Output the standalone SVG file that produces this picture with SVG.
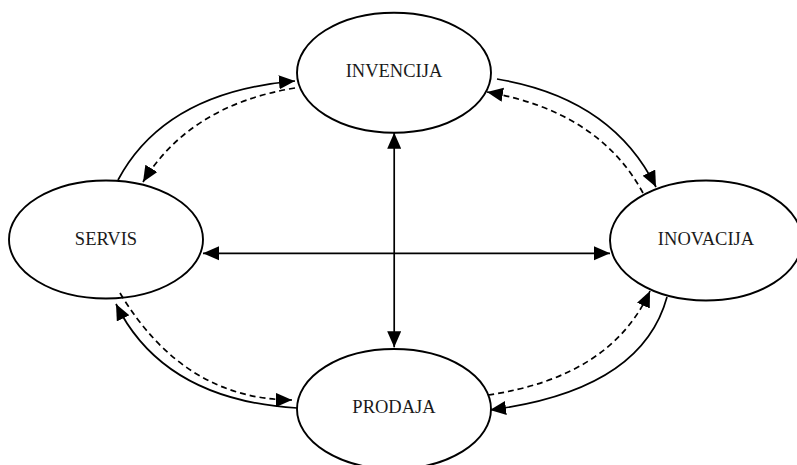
<svg xmlns="http://www.w3.org/2000/svg" width="797" height="465" viewBox="0 0 797 465">
<style>
.node ellipse{fill:#fff;stroke:#000;stroke-width:1.9}
.node text{font-family:"Liberation Serif","Times New Roman","DejaVu Serif",Tinos,serif;font-size:18.5px;fill:#1a1a1a;text-anchor:middle}
.c{fill:none;stroke:#000;stroke-width:1.7;marker-end:url(#ah)}
.cs{fill:none;stroke:#000;stroke-width:1.7;marker-start:url(#ahs);marker-end:url(#ah)}
.d{stroke-dasharray:6,4}
</style>
<defs>
<marker id="ah" markerUnits="userSpaceOnUse" markerWidth="18" markerHeight="15" refX="16" refY="7" orient="auto">
<path d="M0,0 L16,7 L0,14 z" fill="#000"/>
</marker>
<marker id="ahs" markerUnits="userSpaceOnUse" markerWidth="18" markerHeight="15" refX="0" refY="7" orient="auto">
<path d="M16,0 L0,7 L16,14 z" fill="#000"/>
</marker>
</defs>
<rect width="797" height="465" fill="#fff"/>
<g id="invencija" class="node"><ellipse cx="394" cy="72.7" rx="97" ry="60"/><text x="394" y="77.3">INVENCIJA</text></g>
<g id="servis" class="node"><ellipse cx="106" cy="239.5" rx="97" ry="59"/><text x="106" y="245">SERVIS</text></g>
<g id="inovacija" class="node"><ellipse cx="706" cy="240.5" rx="96" ry="60"/><text x="706" y="245">INOVACIJA</text></g>
<g id="prodaja" class="node"><ellipse cx="394" cy="409" rx="97" ry="60"/><text x="394" y="412.7">PRODAJA</text></g>
<g id="connectors">
<path class="cs" d="M203,253.3 L610,253.3"/>
<path class="cs" d="M394.2,132.7 L394.2,347.3"/>
<path class="c" d="M118,180 Q165,92 295,81"/>
<path class="c d" d="M295,88 Q190,105 143,182"/>
<path class="c" d="M497,79 Q612,98 656,187"/>
<path class="c d" d="M643,193 Q599,111.5 487,92"/>
<path class="c" d="M297,408 Q163.5,400 116,304"/>
<path class="c d" d="M120,293 Q184,399.5 292,400"/>
<path class="c" d="M667,297 Q641.5,390.5 490,410"/>
<path class="c d" d="M488,395 Q611,377 650,291"/>
</g>
</svg>
